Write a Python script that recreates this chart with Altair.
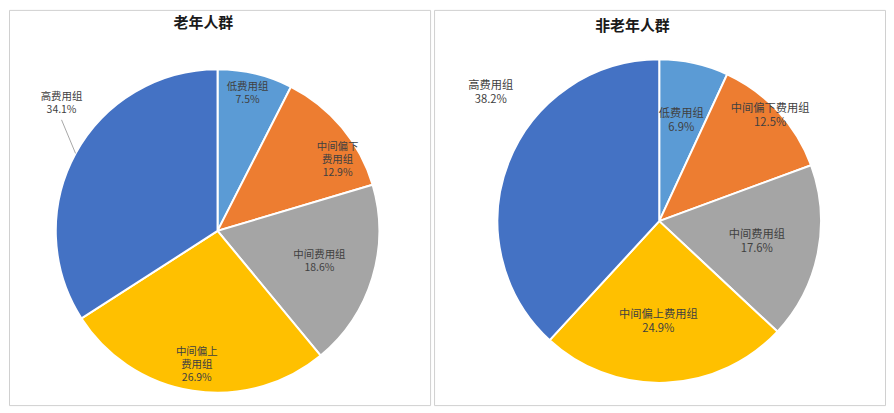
import math
import altair as alt
import pandas as pd

# ---- data ----
categories = ["低费用组", "中间偏下费用组", "中间费用组", "中间偏上费用组", "高费用组"]
elderly = [7.5, 12.9, 18.6, 26.9, 34.1]
non_elderly = [6.9, 12.5, 17.6, 24.9, 38.2]
titles = ["老年人群", "非老年人群"]
colors = ["#5B9BD5", "#ED7D31", "#A5A5A5", "#FFC000", "#4472C4"]

FONT = "Noto Sans CJK SC"
LABEL_COLOR = "#404040"


def build_df(values, wraps):
    total = sum(values)
    rows = []
    cum = 0.0
    for c, v in zip(categories, values):
        start = cum / total
        cum += v
        end = cum / total
        rows.append(dict(cat=c, v=v, start=start, end=end, mid=(start + end) / 2,
                         label=wraps.get(c, c) + "\n" + f"{v:.1f}%"))
    return pd.DataFrame(rows)


def panel(values, title, w, h, cx, cy, R, fs, lh, placements, title_pos, wraps, leader=False):
    df = build_df(values, wraps)
    base = alt.Chart(df)
    theta_scale = alt.Scale(domain=[0, 1], range=[0, 2 * math.pi])
    color = alt.Color("cat:N", scale=alt.Scale(domain=categories, range=colors), legend=None)

    arcs = base.mark_arc(outerRadius=R, stroke="white", strokeWidth=2).encode(
        theta=alt.Theta("start:Q", scale=theta_scale),
        theta2="end:Q",
        color=color,
        x=alt.value(cx),
        y=alt.value(cy),
    )
    layers = [arcs]

    for c, (r, dx, dy) in placements.items():
        n_lines = df[df.cat == c].iloc[0]["label"].count("\n") + 1
        shift = -(n_lines - 1) * lh / 2.0  # centre the whole text block
        t = base.transform_filter(alt.datum.cat == c).mark_text(
            radius=r, dx=dx, dy=dy + shift, fontSize=fs, lineHeight=lh, lineBreak="\n",
            color=LABEL_COLOR, font=FONT, align="center", baseline="middle",
        ).encode(
            theta=alt.Theta("mid:Q", scale=theta_scale),
            text="label:N",
            x=alt.value(cx),
            y=alt.value(cy),
        )
        layers.append(t)

    if leader:
        row = df[df.cat == leader].iloc[0]
        r, dx, dy = placements[leader]
        ang = 2 * math.pi * row["mid"]
        lx = cx + r * math.sin(ang) + dx
        ly = cy - r * math.cos(ang) + dy
        ex = cx + R * math.sin(ang)
        ey = cy - R * math.cos(ang)
        rule = base.transform_filter(alt.datum.cat == leader).mark_rule(
            color="#A6A6A6", strokeWidth=1
        ).encode(
            x=alt.value(lx), y=alt.value(ly + 16),
            x2=alt.value(ex), y2=alt.value(ey),
        )
        layers.append(rule)

    title_layer = alt.Chart(pd.DataFrame({"t": [title]})).mark_text(
        fontSize=15, fontWeight="bold", font=FONT, color="#1a1a1a",
        align="center", baseline="middle",
    ).encode(text="t:N", x=alt.value(title_pos[0]), y=alt.value(title_pos[1]))
    layers.append(title_layer)

    return alt.layer(*layers).properties(width=w, height=h)


left = panel(
    elderly, titles[0], 423, 397, 209.5, 222, 162.5, 10.5, 13,
    {
        "低费用组": (142, -3, 0),
        "中间偏下费用组": (140, 13, 18.5),
        "中间费用组": (107, 0, 0),
        "中间偏上费用组": (136, 0, 0),
        "高费用组": (202, 20.6, -30.8),
    },
    (195.3, 12.7),
    {"中间偏下费用组": "中间偏下\n费用组", "中间偏上费用组": "中间偏上\n费用组"},
    leader="高费用组",
)

right = panel(
    non_elderly, titles[1], 453, 397, 226.2, 212.2, 162.5, 11.3, 14,
    {
        "低费用组": (103, 0, 0),
        "中间偏下费用组": (153, -1, -1.5),
        "中间费用组": (100, 0, 1),
        "中间偏上费用组": (101.5, -4.7, 0),
        "高费用组": (212, 28.3, -51.2),
    },
    (199.3, 16),
    {},
)

chart = alt.hconcat(left, right, spacing=2).properties(padding=0).configure_view(
    stroke="#D0D0D0", strokeWidth=1
)

chart.save("out.html", embed_options={"renderer": "svg", "actions": False})
